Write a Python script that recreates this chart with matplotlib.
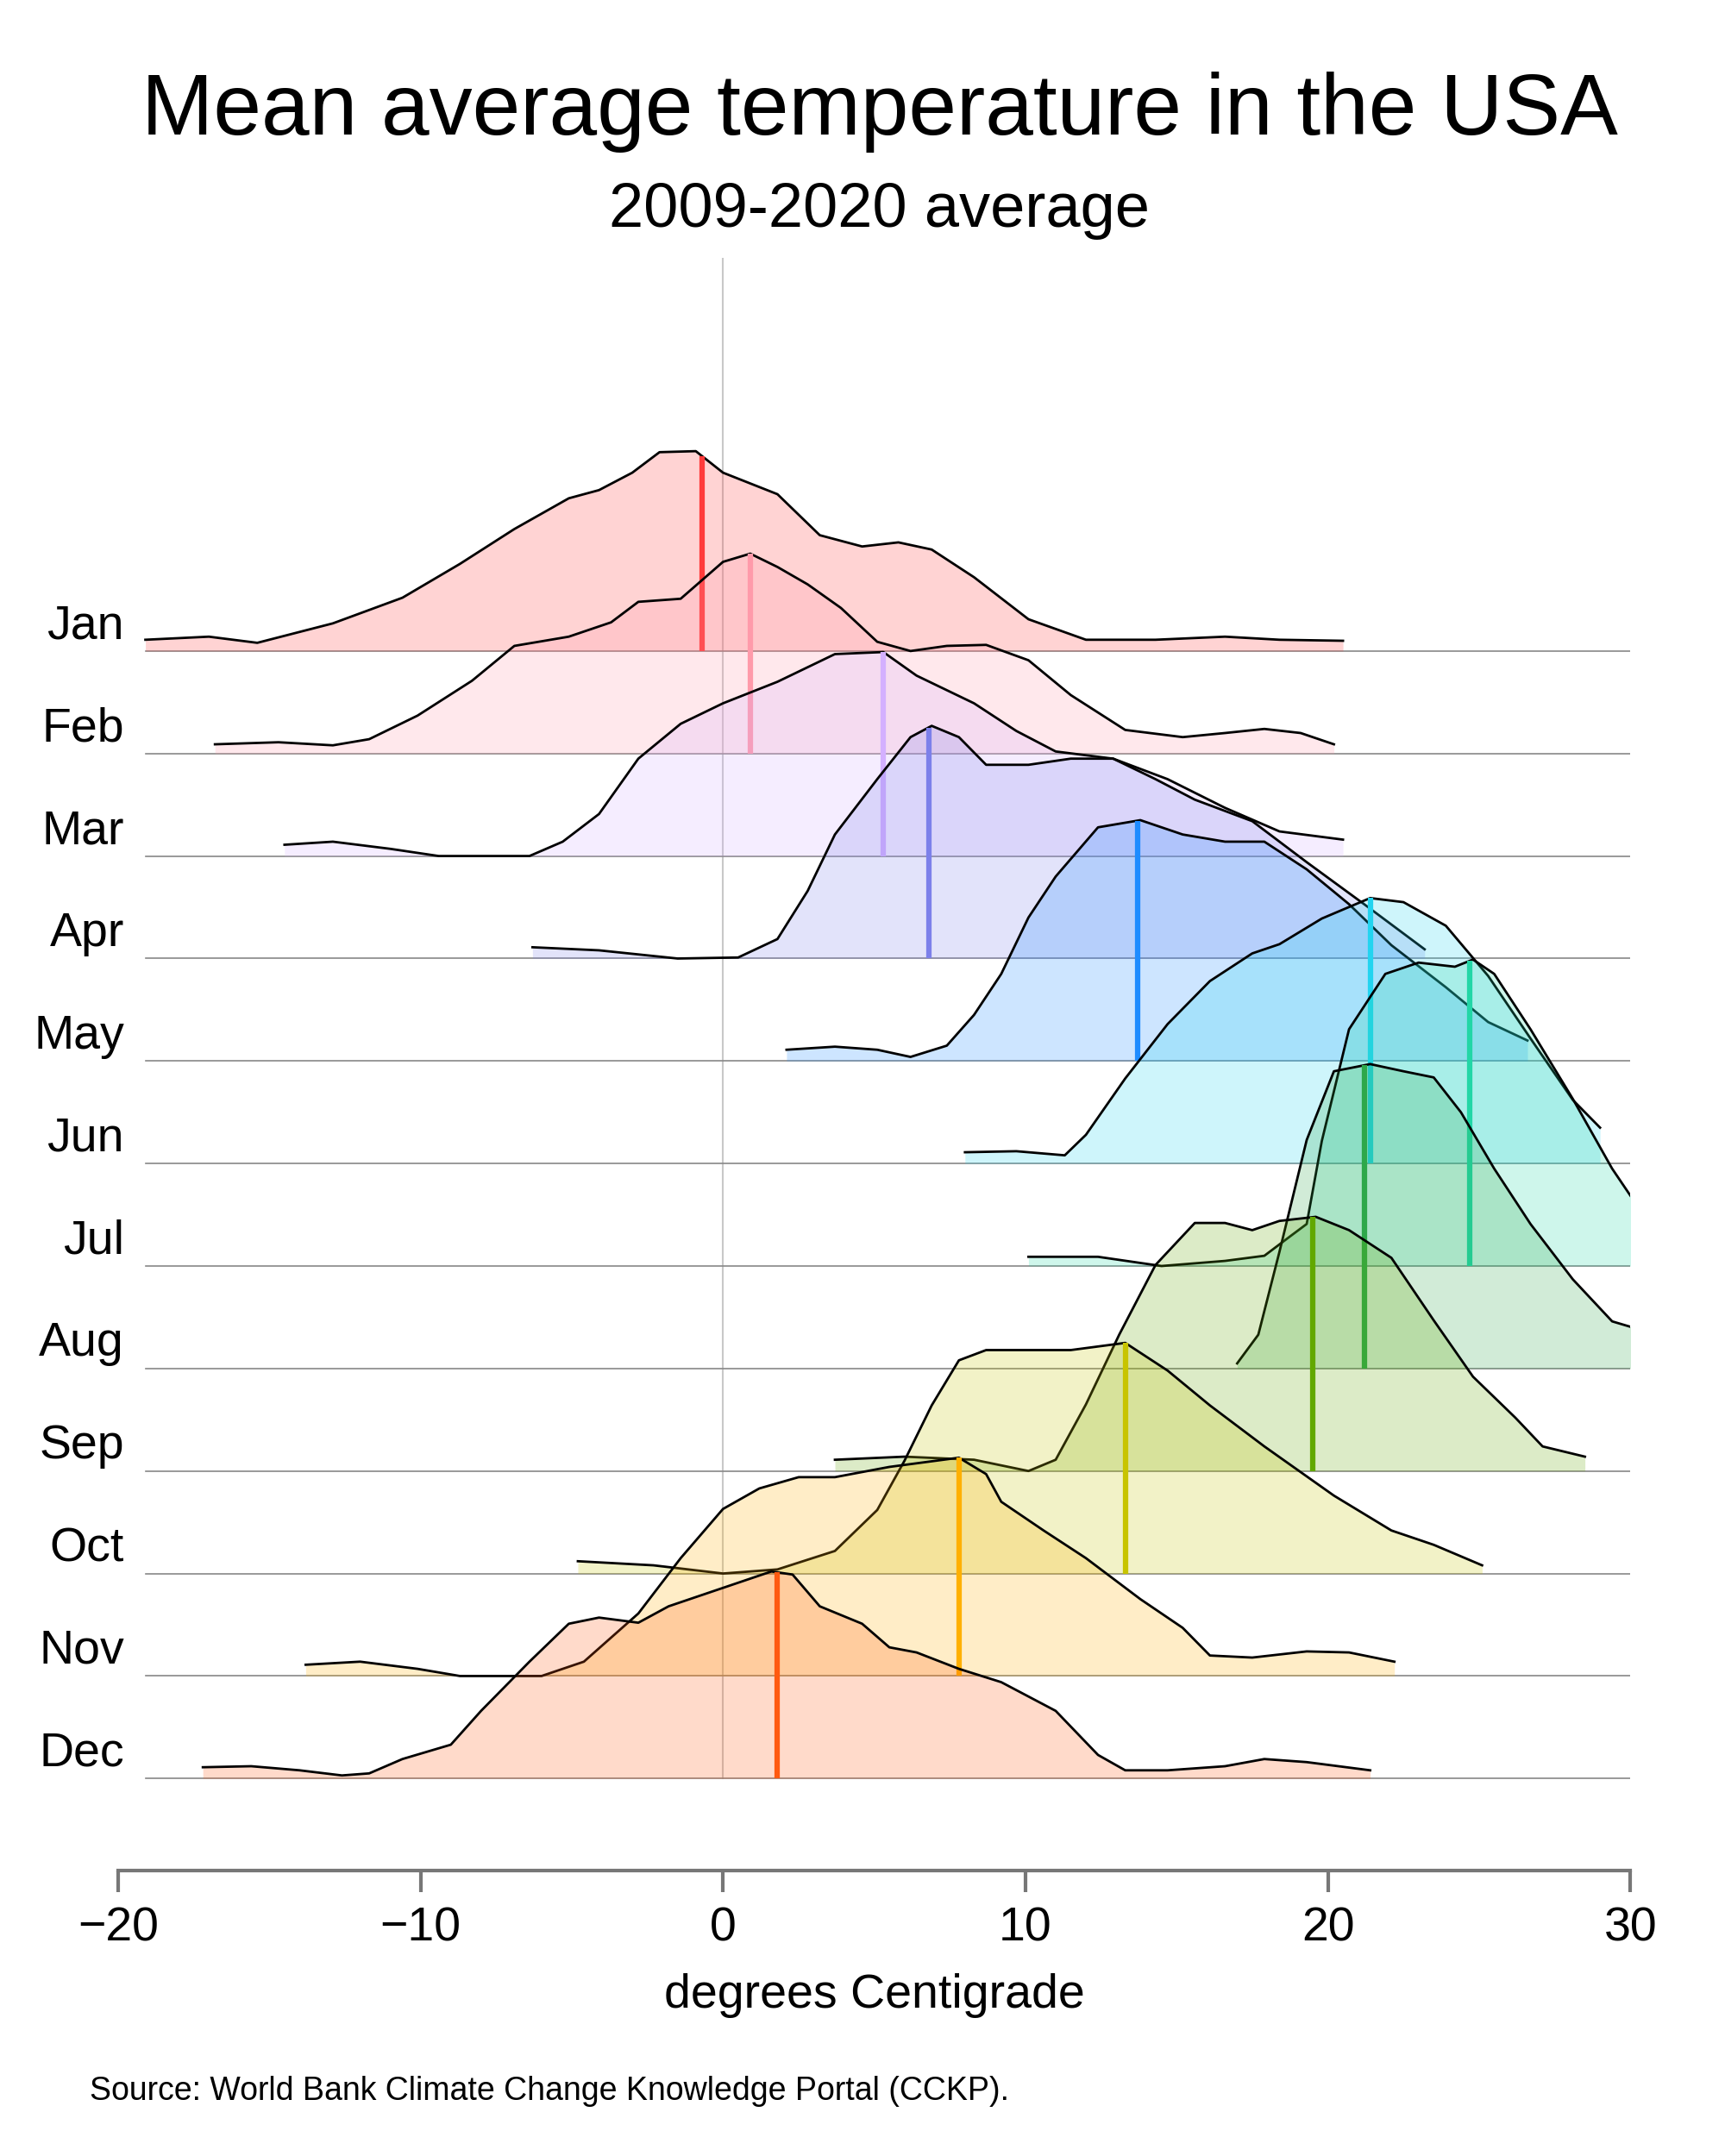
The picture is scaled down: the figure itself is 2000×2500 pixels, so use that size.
import matplotlib.pyplot as plt
import numpy as np
from matplotlib import font_manager

names = {f.name for f in font_manager.fontManager.ttflist}
NARROW = "Liberation Sans Narrow" if "Liberation Sans Narrow" in names else "Liberation Sans"
plt.rcParams["font.family"] = [NARROW, "DejaVu Sans"]

MONTHS = ["Jan", "Feb", "Mar", "Apr", "May", "Jun", "Jul", "Aug", "Sep", "Oct", "Nov", "Dec"]
MEANS = [-0.7, 0.9, 5.3, 6.8, 13.7, 21.4, 24.7, 21.2, 19.5, 13.3, 7.8, 1.8]
COLORS = ["#ff3b3b", "#ff9aaa", "#d4b0ff", "#7c80ea", "#1e8cff", "#22d4f0",
          "#22d6a6", "#2ea84a", "#62a800", "#c8c400", "#ffb000", "#ff5a10"]

# density outlines, temperature (deg C) and height in row units
CURVE_X = {
    "Jan": [-19.1, -17.0, -15.4, -12.9, -10.6, -8.7, -6.9, -5.1, -4.1, -3.0, -2.1, -0.9, 0.0, 1.8, 3.2, 4.6, 5.8, 6.9, 8.3, 10.1, 12.0, 14.3, 16.6, 18.4, 20.5],
    "Feb": [-16.8, -14.7, -12.9, -11.7, -10.1, -8.3, -6.9, -5.1, -3.7, -2.8, -1.4, 0.0, 0.9, 1.8, 2.8, 3.9, 5.1, 6.2, 7.4, 8.7, 10.1, 11.5, 13.3, 15.2, 16.6, 17.9, 19.1, 20.2],
    "Mar": [-14.5, -12.9, -11.0, -9.4, -6.4, -5.3, -4.1, -2.8, -1.4, 0.0, 1.8, 3.7, 5.3, 6.4, 8.3, 9.7, 11.0, 12.9, 14.7, 16.6, 18.4, 20.5],
    "Apr": [-6.3, -4.1, -1.5, 0.5, 1.8, 2.8, 3.7, 5.1, 6.2, 6.9, 7.8, 8.7, 10.1, 11.5, 12.9, 14.3, 15.6, 17.5, 19.3, 21.2, 23.2],
    "May": [2.1, 3.7, 5.1, 6.2, 7.4, 8.3, 9.2, 10.1, 11.0, 12.4, 13.8, 15.2, 16.6, 17.9, 19.3, 20.7, 22.1, 23.9, 25.3, 26.6],
    "Jun": [8.0, 9.7, 11.3, 12.0, 13.3, 14.7, 16.1, 17.5, 18.4, 19.8, 21.4, 22.5, 23.9, 25.3, 26.7, 28.1, 29.0],
    "Jul": [10.1, 12.4, 14.5, 16.6, 17.9, 18.8, 19.3, 19.8, 20.7, 21.9, 23.0, 24.2, 24.8, 25.5, 26.7, 28.1, 29.4, 30.5],
    "Aug": [17.0, 17.7, 18.4, 19.3, 20.2, 21.4, 22.5, 23.5, 24.4, 25.5, 26.7, 28.1, 29.4, 30.2],
    "Sep": [3.7, 6.0, 8.3, 10.1, 11.0, 12.0, 13.1, 14.3, 15.6, 16.6, 17.5, 18.4, 19.6, 20.7, 22.1, 23.5, 24.8, 26.2, 27.1, 28.5],
    "Oct": [-4.8, -2.3, 0.0, 1.8, 3.7, 5.1, 6.0, 6.9, 7.8, 8.7, 10.1, 11.5, 13.3, 14.7, 16.1, 17.9, 20.2, 22.1, 23.5, 25.1],
    "Nov": [-13.8, -12.0, -10.1, -8.7, -6.0, -4.6, -2.8, -1.4, 0.0, 1.2, 2.5, 3.7, 5.5, 7.8, 8.7, 9.2, 10.6, 12.0, 13.8, 15.2, 16.1, 17.5, 19.3, 20.7, 22.2],
    "Dec": [-17.2, -15.6, -14.0, -12.6, -11.7, -10.6, -9.0, -8.0, -6.4, -5.1, -4.1, -2.8, -1.8, 0.0, 1.6, 2.3, 3.2, 4.6, 5.5, 6.4, 7.8, 9.2, 11.0, 12.4, 13.3, 14.7, 16.6, 17.9, 19.3, 21.4],
}
CURVE_H = {
    "Jan": [.11, .14, .08, .27, .52, .85, 1.19, 1.49, 1.57, 1.74, 1.94, 1.95, 1.74, 1.53, 1.13, 1.02, 1.06, .99, .72, .31, .11, .11, .14, .11, .10],
    "Feb": [.09, .11, .08, .14, .37, .71, 1.05, 1.14, 1.28, 1.48, 1.51, 1.87, 1.95, 1.82, 1.65, 1.42, 1.09, 1.00, 1.05, 1.06, .91, .57, .23, .16, .20, .24, .20, .09],
    "Mar": [.11, .14, .07, 0, 0, .14, .41, .95, 1.29, 1.49, 1.70, 1.97, 1.99, 1.76, 1.49, 1.22, 1.02, .95, .75, .47, .24, .16],
    "Apr": [.11, .08, 0, .01, .19, .66, 1.21, 1.75, 2.16, 2.27, 2.16, 1.89, 1.89, 1.95, 1.95, 1.75, 1.55, 1.34, .94, .53, .09],
    "May": [.11, .14, .11, .04, .15, .45, .85, 1.40, 1.80, 2.28, 2.35, 2.21, 2.14, 2.14, 1.87, 1.53, 1.13, .72, .38, .20],
    "Jun": [.11, .12, .08, .28, .83, 1.36, 1.78, 2.05, 2.14, 2.39, 2.59, 2.55, 2.32, 1.83, 1.22, .62, .35],
    "Jul": [.09, .09, 0, .05, .10, .30, .41, 1.22, 2.31, 2.85, 2.96, 2.92, 2.99, 2.85, 2.31, 1.63, .95, .47],
    "Aug": [.05, .33, 1.14, 2.23, 2.90, 2.97, 2.90, 2.84, 2.50, 1.95, 1.41, .87, .46, .39],
    "Sep": [.11, .14, .11, 0, .11, .65, 1.33, 2.01, 2.42, 2.42, 2.35, 2.44, 2.48, 2.35, 2.08, 1.47, .92, .52, .24, .14],
    "Oct": [.12, .08, 0, .04, .22, .62, 1.10, 1.64, 2.08, 2.18, 2.18, 2.18, 2.25, 1.98, 1.64, 1.24, .76, .42, .28, .08],
    "Nov": [.11, .14, .07, 0, 0, .14, .61, 1.15, 1.63, 1.83, 1.94, 1.94, 2.04, 2.13, 1.97, 1.70, 1.42, 1.15, .75, .47, .20, .18, .24, .23, .14],
    "Dec": [.11, .12, .08, .03, .05, .19, .33, .66, 1.14, 1.51, 1.57, 1.52, 1.68, 1.86, 2.02, 1.99, 1.68, 1.51, 1.28, 1.23, 1.07, .94, .66, .23, .08, .08, .12, .19, .16, .08],
}

fig = plt.figure(figsize=(20, 25), dpi=100)
ax = fig.add_axes([0.0685, 0.1323, 0.8766, 0.7483])
ax.set_xlim(-20, 30)
ax.set_ylim(-0.9, 14.84)

ax.plot([0, 0], [0, 14.84], color="#c8c8c8", lw=1.5, zorder=0)

n = len(MONTHS)
for i, m in enumerate(MONTHS):
    base = n - 1 - i
    x = np.array(CURVE_X[m])
    h = np.array(CURVE_H[m])
    z = 2 + i * 3
    ax.plot([-19.1, 30.4], [base, base], color="#888888", lw=1.2, zorder=z - 1)
    ax.fill_between(x, base, base + h, color=COLORS[i], alpha=0.22, lw=0, zorder=z)
    ax.plot(x, base + h, color="black", lw=2.0, zorder=z + 1)
    mh = np.interp(MEANS[i], x, h)
    ax.plot([MEANS[i], MEANS[i]], [base, base + mh], color=COLORS[i], lw=4.5,
            zorder=z + 1, solid_capstyle="butt")
    ax.text(-19.8, base + 0.24, m, ha="right", va="center", fontsize=40)

for s in ["top", "right", "left"]:
    ax.spines[s].set_visible(False)
ax.spines["bottom"].set_color("#777777")
ax.spines["bottom"].set_linewidth(3)
ax.set_yticks([])
ax.set_xticks([-20, -10, 0, 10, 20, 30])
ax.tick_params(axis="x", length=18, width=3, color="#777777", labelsize=40, pad=12)
ax.set_xlabel("degrees Centigrade", fontsize=40, labelpad=18)

fig.text(0.51, 0.948, "Mean average temperature in the USA", ha="center", va="center", fontsize=72)
fig.text(0.51, 0.902, "2009-2020 average", ha="center", va="center", fontsize=52)
fig.text(0.052, 0.03, "Source: World Bank Climate Change Knowledge Portal (CCKP).",
         ha="left", va="center", fontsize=27)

fig.savefig("out.png", dpi=100)
